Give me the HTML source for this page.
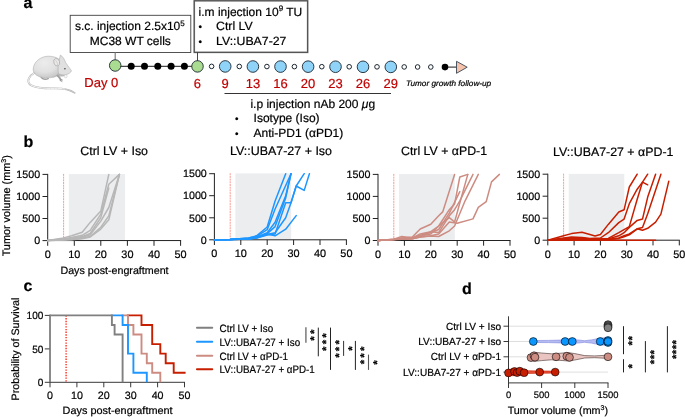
<!DOCTYPE html>
<html lang="en">
<head>
<meta charset="utf-8">
<title>Figure</title>
<style>
html,body{margin:0;padding:0;background:#fff;}
body{width:685px;height:417px;overflow:hidden;}
svg{display:block;}
text{text-rendering:geometricPrecision;stroke-width:0.2px;}
</style>
</head>
<body>
<svg width="685" height="417" viewBox="0 0 685 417" font-family="'Liberation Sans', sans-serif" fill="#000">
<rect width="685" height="417" fill="#fff"/>
<text x="23.6" y="8.3" font-size="16" stroke="#000" font-weight="bold">a</text>
<text x="23.6" y="146.7" font-size="16" stroke="#000" font-weight="bold">b</text>
<text x="23.6" y="290.5" font-size="16" stroke="#000" font-weight="bold">c</text>
<text x="462.0" y="294.2" font-size="16" stroke="#000" font-weight="bold">d</text>
<defs><radialGradient id="mb" cx="0.4" cy="0.3" r="0.8"><stop offset="0" stop-color="#ececec"/><stop offset="0.55" stop-color="#e1e1e1"/><stop offset="0.85" stop-color="#cbcbcb"/><stop offset="1" stop-color="#b2b2b2"/></radialGradient></defs>
<g id="mouse" transform="translate(24,50) scale(0.1152)">
<path d="M92 198 C50 222 22 262 45 292 C70 326 180 336 262 333 C340 331 400 345 440 372" fill="none" stroke="#b4b4b4" stroke-width="15" stroke-linecap="round"/>
<path d="M92 198 C50 222 22 262 45 292 C70 326 180 336 262 333 C300 332 330 334 352 339" fill="none" stroke="#f6f6f6" stroke-width="8.5" stroke-linecap="round"/>
<path d="M352 339 C390 346 420 358 442 373" fill="none" stroke="#dcdcdc" stroke-width="5" stroke-linecap="round"/>
<path d="M150 238 C165 254 192 256 210 248" fill="none" stroke="#9c9c9c" stroke-width="13" stroke-linecap="round"/>
<path d="M80 165 C83 100 150 52 215 54 C262 55 302 70 318 98 C332 132 312 192 290 222 C268 242 200 246 150 236 C108 226 78 200 80 165Z" fill="url(#mb)" stroke="#adadad" stroke-width="5"/>
<path d="M296 150 C300 180 298 205 286 226 C300 232 330 232 352 226 L366 214 C340 216 316 212 300 204Z" fill="#bcbcbc"/>
<path d="M290 222 C304 234 314 246 320 260" fill="none" stroke="#a2a2a2" stroke-width="16" stroke-linecap="round"/>
<path d="M312 264 l18 10 M318 256 l16 5" fill="none" stroke="#8e8e8e" stroke-width="7" stroke-linecap="round"/>
<path d="M316 44 C338 56 352 84 362 110 C382 140 402 164 412 181 C407 197 387 207 367 214 C345 218 318 215 300 205 C292 178 296 120 305 90 C308 74 312 58 316 44Z" fill="#e0e0e0" stroke="#ababab" stroke-width="5"/>
<ellipse cx="284" cy="106" rx="25" ry="33" transform="rotate(-18 284 106)" fill="#ebe8e8" stroke="#a6a6a6" stroke-width="5.5"/>
<path d="M275 90 C285 100 292 115 292 130" fill="none" stroke="#c8c4c4" stroke-width="6" stroke-linecap="round"/>
<ellipse cx="355" cy="162" rx="8.5" ry="6.5" fill="#5c5c5c"/>
<ellipse cx="362" cy="228" rx="13" ry="14" fill="#f6f6f6" stroke="#bdbdbd" stroke-width="3.5"/>
</g>
<rect x="70.2" y="15.3" width="120.6" height="37.2" fill="#fff" stroke="#404040" stroke-width="0.9"/>
<rect x="194.2" y="0.8" width="113.5" height="51.5" fill="#fff" stroke="#9a9a9a" stroke-width="1.8"/>
<rect x="194.2" y="0.8" width="113.5" height="51.5" fill="none" stroke="#303030" stroke-width="0.7"/>
<text x="74.9" y="30.2" font-size="12" stroke="#000">s.c. injection 2.5x10<tspan font-size="8" dy="-4.5">5</tspan></text>
<text x="130.3" y="45.0" font-size="12" text-anchor="middle" stroke="#000">MC38 WT cells</text>
<text x="198.6" y="15.9" font-size="12" stroke="#000">i.m injection 10<tspan font-size="8" dy="-4.5">9</tspan><tspan dy="4.5"> TU</tspan></text>
<text x="198.4" y="30.2" font-size="10" stroke="#000">•</text>
<text x="216.0" y="30.2" font-size="12" stroke="#000" textLength="36.7" lengthAdjust="spacingAndGlyphs">Ctrl LV</text>
<text x="198.4" y="45.0" font-size="10" stroke="#000">•</text>
<text x="216.0" y="45.0" font-size="12" stroke="#000" textLength="70.4" lengthAdjust="spacingAndGlyphs">LV::UBA7-27</text>
<line x1="115.2" y1="52.5" x2="115.2" y2="60" stroke="#808080" stroke-width="1.2"/>
<line x1="197.5" y1="52.5" x2="197.5" y2="61" stroke="#303030" stroke-width="0.9"/>
<line x1="115.2" y1="66.3" x2="197.5" y2="66.3" stroke="#000" stroke-width="0.9"/>
<circle cx="115.2" cy="65.5" r="5.75" fill="#a9dc90" stroke="#1c2630" stroke-width="0.9"/>
<circle cx="131.2" cy="66.3" r="3.5" fill="#000"/>
<circle cx="144.5" cy="66.3" r="3.5" fill="#000"/>
<circle cx="157.8" cy="66.3" r="3.5" fill="#000"/>
<circle cx="171.1" cy="66.3" r="3.5" fill="#000"/>
<circle cx="184.4" cy="66.3" r="3.5" fill="#000"/>
<circle cx="197.5" cy="66.4" r="5.75" fill="#a9dc90" stroke="#1c2630" stroke-width="0.9"/>
<circle cx="211.6" cy="66.39" r="2.3" fill="#fff" stroke="#1c2630" stroke-width="1"/>
<circle cx="239.3" cy="66.47" r="2.3" fill="#fff" stroke="#1c2630" stroke-width="1"/>
<circle cx="266.9" cy="66.54" r="2.3" fill="#fff" stroke="#1c2630" stroke-width="1"/>
<circle cx="294.4" cy="66.62" r="2.3" fill="#fff" stroke="#1c2630" stroke-width="1"/>
<circle cx="321.8" cy="66.70" r="2.3" fill="#fff" stroke="#1c2630" stroke-width="1"/>
<circle cx="349.2" cy="66.77" r="2.3" fill="#fff" stroke="#1c2630" stroke-width="1"/>
<circle cx="377" cy="66.85" r="2.3" fill="#fff" stroke="#1c2630" stroke-width="1"/>
<circle cx="404.2" cy="66.93" r="2.3" fill="#fff" stroke="#1c2630" stroke-width="1"/>
<circle cx="417.6" cy="66.97" r="2.3" fill="#fff" stroke="#1c2630" stroke-width="1"/>
<circle cx="430.8" cy="67.00" r="2.3" fill="#fff" stroke="#1c2630" stroke-width="1"/>
<circle cx="225.2" cy="66.43" r="5.8" fill="#8fd4f8" stroke="#1c2630" stroke-width="0.9"/>
<circle cx="252.9" cy="66.51" r="5.8" fill="#8fd4f8" stroke="#1c2630" stroke-width="0.9"/>
<circle cx="280.5" cy="66.58" r="5.8" fill="#8fd4f8" stroke="#1c2630" stroke-width="0.9"/>
<circle cx="308.1" cy="66.66" r="5.8" fill="#8fd4f8" stroke="#1c2630" stroke-width="0.9"/>
<circle cx="335.5" cy="66.74" r="5.8" fill="#8fd4f8" stroke="#1c2630" stroke-width="0.9"/>
<circle cx="363" cy="66.81" r="5.8" fill="#8fd4f8" stroke="#1c2630" stroke-width="0.9"/>
<circle cx="390.8" cy="66.89" r="5.8" fill="#8fd4f8" stroke="#1c2630" stroke-width="0.9"/>
<line x1="445" y1="67.1" x2="456.5" y2="67.1" stroke="#000" stroke-width="0.9"/>
<circle cx="445" cy="67.1" r="3.3" fill="#000"/>
<path d="M456.5 61.3 L467.2 67.2 L456.5 73.3 Z" fill="#f5c3ab" stroke="#3a4652" stroke-width="0.9" stroke-linejoin="miter"/>
<text x="84.3" y="87.3" font-size="13" fill="#c00000" stroke="#c00000">Day 0</text>
<text x="197.3" y="87.5" font-size="13" text-anchor="middle" fill="#c00000" stroke="#c00000">6</text>
<text x="225.2" y="87.5" font-size="13" text-anchor="middle" fill="#c00000" stroke="#c00000">9</text>
<text x="252.9" y="87.5" font-size="13" text-anchor="middle" fill="#c00000" stroke="#c00000">13</text>
<text x="280.5" y="87.5" font-size="13" text-anchor="middle" fill="#c00000" stroke="#c00000">16</text>
<text x="308.1" y="87.5" font-size="13" text-anchor="middle" fill="#c00000" stroke="#c00000">20</text>
<text x="335.5" y="87.5" font-size="13" text-anchor="middle" fill="#c00000" stroke="#c00000">23</text>
<text x="363.0" y="87.5" font-size="13" text-anchor="middle" fill="#c00000" stroke="#c00000">26</text>
<text x="390.8" y="87.5" font-size="13" text-anchor="middle" fill="#c00000" stroke="#c00000">29</text>
<line x1="224.5" y1="93.5" x2="391" y2="93.5" stroke="#000" stroke-width="0.8"/>
<text x="250.4" y="107.7" font-size="12" stroke="#000">i.p injection nAb 200 <tspan font-style="italic">μ</tspan>g</text>
<text x="235.0" y="122.3" font-size="10" stroke="#000">•</text>
<text x="253.6" y="122.3" font-size="12" stroke="#000">Isotype (Iso)</text>
<text x="235.0" y="136.5" font-size="10" stroke="#000">•</text>
<text x="253.6" y="136.5" font-size="12" stroke="#000">Anti-PD1 (αPD1)</text>
<text x="406.0" y="86.2" font-size="8" stroke="#000" font-style="italic" stroke-width="0.03" textLength="85.2" lengthAdjust="spacingAndGlyphs">Tumor growth follow-up</text>
<rect x="68.8" y="174.1" width="56.2" height="65.8" fill="#ecedef"/>
<line x1="63.6" y1="173.9" x2="63.6" y2="240.55" stroke="#f86a5c" stroke-width="0.9" stroke-dasharray="2 0.7" stroke-opacity="0.75"/>
<path d="M47.7 173.90 V240.55 H181.1" fill="none" stroke="#222" stroke-width="1"/>
<line x1="42.5" y1="240.6" x2="47.7" y2="240.6" stroke="#222" stroke-width="1"/>
<text x="40.1" y="244.2" font-size="10.7" text-anchor="end" stroke="#000">0</text>
<line x1="42.5" y1="218.5" x2="47.7" y2="218.5" stroke="#222" stroke-width="1"/>
<text x="40.1" y="222.2" font-size="10.7" text-anchor="end" stroke="#000">500</text>
<line x1="42.5" y1="196.5" x2="47.7" y2="196.5" stroke="#222" stroke-width="1"/>
<text x="40.1" y="200.2" font-size="10.7" text-anchor="end" stroke="#000">1000</text>
<line x1="42.5" y1="174.4" x2="47.7" y2="174.4" stroke="#222" stroke-width="1"/>
<text x="40.1" y="178.1" font-size="10.7" text-anchor="end" stroke="#000">1500</text>
<line x1="47.7" y1="240.55" x2="47.7" y2="245.8" stroke="#222" stroke-width="1"/>
<text x="47.7" y="257.9" font-size="10.9" text-anchor="middle" stroke="#000">0</text>
<line x1="74.3" y1="240.55" x2="74.3" y2="245.8" stroke="#222" stroke-width="1"/>
<text x="74.3" y="257.9" font-size="10.9" text-anchor="middle" stroke="#000">10</text>
<line x1="100.8" y1="240.55" x2="100.8" y2="245.8" stroke="#222" stroke-width="1"/>
<text x="100.8" y="257.9" font-size="10.9" text-anchor="middle" stroke="#000">20</text>
<line x1="127.4" y1="240.55" x2="127.4" y2="245.8" stroke="#222" stroke-width="1"/>
<text x="127.4" y="257.9" font-size="10.9" text-anchor="middle" stroke="#000">30</text>
<line x1="154.0" y1="240.55" x2="154.0" y2="245.8" stroke="#222" stroke-width="1"/>
<text x="154.0" y="257.9" font-size="10.9" text-anchor="middle" stroke="#000">40</text>
<line x1="180.6" y1="240.55" x2="180.6" y2="245.8" stroke="#222" stroke-width="1"/>
<text x="180.6" y="257.9" font-size="10.9" text-anchor="middle" stroke="#000">50</text>
<polyline points="47.7,240.6 63.6,237.9 71.6,235.7 82.2,232.3 90.2,222.4 100.8,211.1 108.8,174.4" fill="none" stroke="#b7b7b7" stroke-width="1.5" stroke-linejoin="round" stroke-linecap="round"/>
<polyline points="47.7,240.6 63.6,238.8 71.6,237.5 82.2,235.3 90.2,230.4 100.8,214.1 108.8,184.3 119.4,174.4" fill="none" stroke="#b7b7b7" stroke-width="1.5" stroke-linejoin="round" stroke-linecap="round"/>
<polyline points="47.7,240.6 63.6,239.2 71.6,238.3 82.2,236.6 90.2,233.5 100.8,217.6 108.8,188.1" fill="none" stroke="#b7b7b7" stroke-width="1.5" stroke-linejoin="round" stroke-linecap="round"/>
<polyline points="47.7,240.6 63.6,239.7 71.6,238.8 82.2,237.5 90.2,234.8 100.8,221.1 108.8,207.5 119.4,174.4" fill="none" stroke="#b7b7b7" stroke-width="1.5" stroke-linejoin="round" stroke-linecap="round"/>
<polyline points="47.7,240.6 63.6,240.1 71.6,239.4 82.2,238.3 90.2,236.6 100.8,227.3 108.8,215.9 119.4,174.4" fill="none" stroke="#b7b7b7" stroke-width="1.5" stroke-linejoin="round" stroke-linecap="round"/>
<polyline points="47.7,240.6 63.6,240.1 71.6,239.7 82.2,238.8 90.2,237.0 100.8,229.1 108.8,219.8 119.4,174.4" fill="none" stroke="#b7b7b7" stroke-width="1.5" stroke-linejoin="round" stroke-linecap="round"/>
<text x="80.3" y="154.9" font-size="12.2" stroke="#000" textLength="67.7" lengthAdjust="spacingAndGlyphs">Ctrl LV + Iso</text>
<rect x="235.4" y="173.4" width="55.8" height="65.7" fill="#ecedef"/>
<line x1="230.2" y1="173.2" x2="230.2" y2="239.8" stroke="#f86a5c" stroke-width="0.9" stroke-dasharray="2 0.7" stroke-opacity="0.75"/>
<path d="M214.4 173.20 V239.8 H346.9" fill="none" stroke="#222" stroke-width="1"/>
<line x1="209.2" y1="239.8" x2="214.4" y2="239.8" stroke="#222" stroke-width="1"/>
<text x="206.8" y="243.5" font-size="10.7" text-anchor="end" stroke="#000">0</text>
<line x1="209.2" y1="217.8" x2="214.4" y2="217.8" stroke="#222" stroke-width="1"/>
<text x="206.8" y="221.5" font-size="10.7" text-anchor="end" stroke="#000">500</text>
<line x1="209.2" y1="195.7" x2="214.4" y2="195.7" stroke="#222" stroke-width="1"/>
<text x="206.8" y="199.4" font-size="10.7" text-anchor="end" stroke="#000">1000</text>
<line x1="209.2" y1="173.7" x2="214.4" y2="173.7" stroke="#222" stroke-width="1"/>
<text x="206.8" y="177.4" font-size="10.7" text-anchor="end" stroke="#000">1500</text>
<line x1="214.4" y1="239.8" x2="214.4" y2="245.0" stroke="#222" stroke-width="1"/>
<text x="214.4" y="257.1" font-size="10.9" text-anchor="middle" stroke="#000">0</text>
<line x1="240.8" y1="239.8" x2="240.8" y2="245.0" stroke="#222" stroke-width="1"/>
<text x="240.8" y="257.1" font-size="10.9" text-anchor="middle" stroke="#000">10</text>
<line x1="267.2" y1="239.8" x2="267.2" y2="245.0" stroke="#222" stroke-width="1"/>
<text x="267.2" y="257.1" font-size="10.9" text-anchor="middle" stroke="#000">20</text>
<line x1="293.6" y1="239.8" x2="293.6" y2="245.0" stroke="#222" stroke-width="1"/>
<text x="293.6" y="257.1" font-size="10.9" text-anchor="middle" stroke="#000">30</text>
<line x1="320.0" y1="239.8" x2="320.0" y2="245.0" stroke="#222" stroke-width="1"/>
<text x="320.0" y="257.1" font-size="10.9" text-anchor="middle" stroke="#000">40</text>
<line x1="346.4" y1="239.8" x2="346.4" y2="245.0" stroke="#222" stroke-width="1"/>
<text x="346.4" y="257.1" font-size="10.9" text-anchor="middle" stroke="#000">50</text>
<polyline points="214.4,239.8 230.2,239.4 248.7,238.0 256.6,235.8 267.2,227.0 275.1,201.0 285.7,173.7" fill="none" stroke="#1e96ff" stroke-width="1.5" stroke-linejoin="round" stroke-linecap="round"/>
<polyline points="214.4,239.8 230.2,239.4 248.7,238.0 256.6,236.3 267.2,229.7 275.1,209.0 291.0,173.7" fill="none" stroke="#1e96ff" stroke-width="1.5" stroke-linejoin="round" stroke-linecap="round"/>
<polyline points="214.4,239.8 230.2,239.4 248.7,238.5 256.6,237.2 267.2,232.7 275.1,222.2 285.7,195.7 291.0,173.7" fill="none" stroke="#1e96ff" stroke-width="1.5" stroke-linejoin="round" stroke-linecap="round"/>
<polyline points="214.4,239.8 230.2,239.4 248.7,238.5 256.6,237.2 267.2,233.6 275.1,226.6 285.7,197.9 291.0,173.7" fill="none" stroke="#1e96ff" stroke-width="1.5" stroke-linejoin="round" stroke-linecap="round"/>
<polyline points="214.4,239.8 230.2,239.6 248.7,238.9 256.6,237.6 267.2,234.5 275.1,232.7 285.7,217.8 291.0,202.8 296.2,186.0 304.2,173.7" fill="none" stroke="#1e96ff" stroke-width="1.5" stroke-linejoin="round" stroke-linecap="round"/>
<polyline points="214.4,239.8 230.2,239.6 248.7,238.9 256.6,238.0 267.2,235.0 275.1,234.1 285.7,202.8 291.0,202.8 296.2,186.0 304.2,190.4 309.4,173.7" fill="none" stroke="#1e96ff" stroke-width="1.5" stroke-linejoin="round" stroke-linecap="round"/>
<polyline points="214.4,239.8 230.2,239.6 248.7,238.9 256.6,238.0 267.2,234.1 275.1,235.8 285.7,229.2 296.2,215.6" fill="none" stroke="#1e96ff" stroke-width="1.5" stroke-linejoin="round" stroke-linecap="round"/>
<text x="229.9" y="155.0" font-size="12.2" stroke="#000" textLength="102.1" lengthAdjust="spacingAndGlyphs">LV::UBA7-27 + Iso</text>
<rect x="399.0" y="174.1" width="55.8" height="65.7" fill="#ecedef"/>
<line x1="393.8" y1="173.9" x2="393.8" y2="240.5" stroke="#f86a5c" stroke-width="0.9" stroke-dasharray="2 0.7" stroke-opacity="0.75"/>
<path d="M378.0 173.90 V240.5 H510.5" fill="none" stroke="#222" stroke-width="1"/>
<line x1="372.8" y1="240.5" x2="378.0" y2="240.5" stroke="#222" stroke-width="1"/>
<text x="370.4" y="244.2" font-size="10.7" text-anchor="end" stroke="#000">0</text>
<line x1="372.8" y1="218.5" x2="378.0" y2="218.5" stroke="#222" stroke-width="1"/>
<text x="370.4" y="222.2" font-size="10.7" text-anchor="end" stroke="#000">500</text>
<line x1="372.8" y1="196.4" x2="378.0" y2="196.4" stroke="#222" stroke-width="1"/>
<text x="370.4" y="200.1" font-size="10.7" text-anchor="end" stroke="#000">1000</text>
<line x1="372.8" y1="174.4" x2="378.0" y2="174.4" stroke="#222" stroke-width="1"/>
<text x="370.4" y="178.1" font-size="10.7" text-anchor="end" stroke="#000">1500</text>
<line x1="378.0" y1="240.5" x2="378.0" y2="245.7" stroke="#222" stroke-width="1"/>
<text x="378.0" y="257.8" font-size="10.9" text-anchor="middle" stroke="#000">0</text>
<line x1="404.4" y1="240.5" x2="404.4" y2="245.7" stroke="#222" stroke-width="1"/>
<text x="404.4" y="257.8" font-size="10.9" text-anchor="middle" stroke="#000">10</text>
<line x1="430.8" y1="240.5" x2="430.8" y2="245.7" stroke="#222" stroke-width="1"/>
<text x="430.8" y="257.8" font-size="10.9" text-anchor="middle" stroke="#000">20</text>
<line x1="457.2" y1="240.5" x2="457.2" y2="245.7" stroke="#222" stroke-width="1"/>
<text x="457.2" y="257.8" font-size="10.9" text-anchor="middle" stroke="#000">30</text>
<line x1="483.6" y1="240.5" x2="483.6" y2="245.7" stroke="#222" stroke-width="1"/>
<text x="483.6" y="257.8" font-size="10.9" text-anchor="middle" stroke="#000">40</text>
<line x1="510.0" y1="240.5" x2="510.0" y2="245.7" stroke="#222" stroke-width="1"/>
<text x="510.0" y="257.8" font-size="10.9" text-anchor="middle" stroke="#000">50</text>
<polyline points="378.0,240.5 393.8,239.2 401.8,237.9 412.3,237.0 420.2,229.0 430.8,224.2 438.7,215.8 442.7,211.9 454.6,174.4" fill="none" stroke="#cd8c82" stroke-width="1.5" stroke-linejoin="round" stroke-linecap="round"/>
<polyline points="378.0,240.5 393.8,239.2 401.8,236.5 412.3,237.9 420.2,233.9 430.8,231.7 438.7,226.0 449.3,209.7 454.6,203.9 459.8,177.0 467.8,174.4" fill="none" stroke="#cd8c82" stroke-width="1.5" stroke-linejoin="round" stroke-linecap="round"/>
<polyline points="378.0,240.5 393.8,239.6 401.8,238.3 412.3,238.3 420.2,235.2 430.8,232.6 438.7,229.5 449.3,213.2 459.8,191.6" fill="none" stroke="#cd8c82" stroke-width="1.5" stroke-linejoin="round" stroke-linecap="round"/>
<polyline points="378.0,240.5 393.8,239.6 401.8,238.7 412.3,238.3 420.2,236.1 430.8,233.9 438.7,226.0 449.3,217.6 454.6,222.0 459.8,203.0 467.8,174.4" fill="none" stroke="#cd8c82" stroke-width="1.5" stroke-linejoin="round" stroke-linecap="round"/>
<polyline points="378.0,240.5 393.8,239.6 401.8,238.7 412.3,238.7 420.2,236.5 430.8,231.7 438.7,232.6 449.3,215.8 454.6,209.7 459.8,200.8 473.0,174.4" fill="none" stroke="#cd8c82" stroke-width="1.5" stroke-linejoin="round" stroke-linecap="round"/>
<polyline points="378.0,240.5 393.8,239.6 401.8,239.2 412.3,238.7 420.2,237.0 430.8,236.1 438.7,236.5 449.3,230.8 454.6,226.0 465.1,200.8 478.3,174.4" fill="none" stroke="#cd8c82" stroke-width="1.5" stroke-linejoin="round" stroke-linecap="round"/>
<polyline points="378.0,240.5 393.8,239.6 401.8,239.2 412.3,238.7 420.2,237.0 430.8,235.7 438.7,233.9 449.3,222.0 457.2,223.3 473.0,218.9 478.3,207.4 486.2,201.7 491.5,181.9 499.4,174.4" fill="none" stroke="#cd8c82" stroke-width="1.5" stroke-linejoin="round" stroke-linecap="round"/>
<text x="401.0" y="155.3" font-size="12.2" stroke="#000" textLength="86.0" lengthAdjust="spacingAndGlyphs">Ctrl LV + αPD-1</text>
<rect x="568.7" y="173.9" width="55.6" height="65.6" fill="#ecedef"/>
<line x1="563.6" y1="173.7" x2="563.6" y2="240.2" stroke="#f86a5c" stroke-width="0.9" stroke-dasharray="2 0.7" stroke-opacity="0.75"/>
<path d="M547.8 173.70 V240.2 H679.8" fill="none" stroke="#222" stroke-width="1"/>
<line x1="542.6" y1="240.2" x2="547.8" y2="240.2" stroke="#222" stroke-width="1"/>
<text x="540.2" y="243.9" font-size="10.7" text-anchor="end" stroke="#000">0</text>
<line x1="542.6" y1="218.2" x2="547.8" y2="218.2" stroke="#222" stroke-width="1"/>
<text x="540.2" y="221.9" font-size="10.7" text-anchor="end" stroke="#000">500</text>
<line x1="542.6" y1="196.2" x2="547.8" y2="196.2" stroke="#222" stroke-width="1"/>
<text x="540.2" y="199.9" font-size="10.7" text-anchor="end" stroke="#000">1000</text>
<line x1="542.6" y1="174.2" x2="547.8" y2="174.2" stroke="#222" stroke-width="1"/>
<text x="540.2" y="177.9" font-size="10.7" text-anchor="end" stroke="#000">1500</text>
<line x1="547.8" y1="240.2" x2="547.8" y2="245.4" stroke="#222" stroke-width="1"/>
<text x="547.8" y="257.5" font-size="10.9" text-anchor="middle" stroke="#000">0</text>
<line x1="574.1" y1="240.2" x2="574.1" y2="245.4" stroke="#222" stroke-width="1"/>
<text x="574.1" y="257.5" font-size="10.9" text-anchor="middle" stroke="#000">10</text>
<line x1="600.4" y1="240.2" x2="600.4" y2="245.4" stroke="#222" stroke-width="1"/>
<text x="600.4" y="257.5" font-size="10.9" text-anchor="middle" stroke="#000">20</text>
<line x1="626.7" y1="240.2" x2="626.7" y2="245.4" stroke="#222" stroke-width="1"/>
<text x="626.7" y="257.5" font-size="10.9" text-anchor="middle" stroke="#000">30</text>
<line x1="653.0" y1="240.2" x2="653.0" y2="245.4" stroke="#222" stroke-width="1"/>
<text x="653.0" y="257.5" font-size="10.9" text-anchor="middle" stroke="#000">40</text>
<line x1="679.3" y1="240.2" x2="679.3" y2="245.4" stroke="#222" stroke-width="1"/>
<text x="679.3" y="257.5" font-size="10.9" text-anchor="middle" stroke="#000">50</text>
<polyline points="547.8,240.2 563.6,235.8 571.5,233.6 582.0,232.3 589.9,234.5 595.1,236.0 600.4,234.5 608.3,224.4 618.8,212.0 624.1,209.8 629.3,187.0 637.2,174.2" fill="none" stroke="#c81e00" stroke-width="1.5" stroke-linejoin="round" stroke-linecap="round"/>
<polyline points="547.8,240.2 563.6,238.0 571.5,237.1 582.0,237.6 589.9,238.4 600.4,238.0 608.3,232.7 618.8,222.6 624.1,219.1 629.3,203.7 637.2,189.2 642.5,182.1 647.7,184.8" fill="none" stroke="#c81e00" stroke-width="1.5" stroke-linejoin="round" stroke-linecap="round"/>
<polyline points="547.8,240.2 563.6,238.9 571.5,238.0 582.0,238.0 589.9,238.9 600.4,238.9 608.3,238.4 618.8,232.7 629.3,226.6 637.2,199.3 642.5,182.1 647.7,174.2" fill="none" stroke="#c81e00" stroke-width="1.5" stroke-linejoin="round" stroke-linecap="round"/>
<polyline points="547.8,240.2 563.6,239.3 571.5,238.9 582.0,238.4 589.9,238.9 600.4,239.3 608.3,238.9 618.8,235.8 624.1,232.7 629.3,227.4 637.2,220.4 642.5,219.1 647.7,197.1 655.6,174.2" fill="none" stroke="#c81e00" stroke-width="1.5" stroke-linejoin="round" stroke-linecap="round"/>
<polyline points="547.8,240.2 563.6,239.3 571.5,239.3 582.0,238.9 589.9,239.3 600.4,239.3 608.3,239.3 618.8,238.0 624.1,235.8 629.3,234.0 637.2,228.8 642.5,227.4 647.7,213.8 660.9,174.2" fill="none" stroke="#c81e00" stroke-width="1.5" stroke-linejoin="round" stroke-linecap="round"/>
<polyline points="547.8,240.2 563.6,239.8 571.5,239.3 582.0,239.3 589.9,239.3 600.4,239.8 608.3,239.8 618.8,238.4 624.1,236.7 629.3,234.9 637.2,228.8 642.5,230.3 647.7,228.3 655.6,222.2 660.9,214.2 668.8,181.2" fill="none" stroke="#c81e00" stroke-width="1.5" stroke-linejoin="round" stroke-linecap="round"/>
<polyline points="547.8,240.2 655.6,240.2" fill="none" stroke="#c81e00" stroke-width="1.5" stroke-linejoin="round" stroke-linecap="round"/>
<text x="553.1" y="155.6" font-size="12.2" stroke="#000" textLength="120.3" lengthAdjust="spacingAndGlyphs">LV::UBA7-27 + αPD-1</text>
<text x="114.5" y="274.0" font-size="10.7" text-anchor="middle" stroke="#000">Days post-engraftment</text>
<text stroke="#000" transform="translate(9.8,205.8) rotate(-90)" font-size="10.85" text-anchor="middle">Tumor volume (mm<tspan font-size="7" dy="-3.8">3</tspan><tspan dy="3.8">)</tspan></text>
<line x1="66.1" y1="315.4" x2="66.1" y2="382.3" stroke="#ff2a1a" stroke-width="1.4" stroke-dasharray="1.35 1.35"/>
<path d="M50.0 314.9 V382.3 H185.0" fill="none" stroke="#222" stroke-width="0.9"/>
<line x1="44.8" y1="382.3" x2="50.0" y2="382.3" stroke="#222" stroke-width="0.9"/>
<text x="37.8" y="386.0" font-size="10.5" stroke="#000" textLength="5.6" lengthAdjust="spacingAndGlyphs">0</text>
<line x1="44.8" y1="348.9" x2="50.0" y2="348.9" stroke="#222" stroke-width="0.9"/>
<text x="32.2" y="352.6" font-size="10.5" stroke="#000" textLength="11.2" lengthAdjust="spacingAndGlyphs">50</text>
<line x1="44.8" y1="315.4" x2="50.0" y2="315.4" stroke="#222" stroke-width="0.9"/>
<text x="26.6" y="319.1" font-size="10.5" stroke="#000" textLength="16.8" lengthAdjust="spacingAndGlyphs">100</text>
<line x1="50.0" y1="382.3" x2="50.0" y2="387.3" stroke="#222" stroke-width="0.9"/>
<text x="50.0" y="399.2" font-size="10.7" text-anchor="middle" stroke="#000">0</text>
<line x1="76.9" y1="382.3" x2="76.9" y2="387.3" stroke="#222" stroke-width="0.9"/>
<text x="76.9" y="399.2" font-size="10.7" text-anchor="middle" stroke="#000">10</text>
<line x1="103.8" y1="382.3" x2="103.8" y2="387.3" stroke="#222" stroke-width="0.9"/>
<text x="103.8" y="399.2" font-size="10.7" text-anchor="middle" stroke="#000">20</text>
<line x1="130.7" y1="382.3" x2="130.7" y2="387.3" stroke="#222" stroke-width="0.9"/>
<text x="130.7" y="399.2" font-size="10.7" text-anchor="middle" stroke="#000">30</text>
<line x1="157.6" y1="382.3" x2="157.6" y2="387.3" stroke="#222" stroke-width="0.9"/>
<text x="157.6" y="399.2" font-size="10.7" text-anchor="middle" stroke="#000">40</text>
<line x1="184.5" y1="382.3" x2="184.5" y2="387.3" stroke="#222" stroke-width="0.9"/>
<text x="184.5" y="399.2" font-size="10.7" text-anchor="middle" stroke="#000">50</text>
<polyline points="126.9,315.4 141.5,315.4 141.5,325.0 152.2,325.0 152.2,344.1 160.3,344.1 160.3,353.6 165.7,353.6 165.7,363.2 173.7,363.2 173.7,372.7 185.6,372.7" fill="none" stroke="#c81e00" stroke-width="1.9" stroke-linejoin="miter"/>
<polyline points="121.6,315.4 128.0,315.4 128.0,325.0 133.4,325.0 133.4,334.5 141.5,334.5 141.5,353.6 146.8,353.6 146.8,363.2 152.2,363.2 152.2,372.7 160.3,372.7 160.3,382.3" fill="none" stroke="#cd8c82" stroke-width="1.9" stroke-linejoin="miter"/>
<polyline points="110.8,315.4 122.6,315.4 122.6,325.0 128.0,325.0 128.0,353.6 133.4,353.6 133.4,372.7 146.8,372.7 146.8,382.3" fill="none" stroke="#1e96ff" stroke-width="1.9" stroke-linejoin="miter"/>
<polyline points="50.0,315.4 111.9,315.4 111.9,325.0 114.6,325.0 114.6,334.5 122.6,334.5 122.6,382.3" fill="none" stroke="#808080" stroke-width="1.9" stroke-linejoin="miter"/>
<line x1="50.0" y1="314.59999999999997" x2="50.0" y2="382.3" stroke="#808080" stroke-width="1.2"/>
<text x="62.6" y="414.1" font-size="10.7" stroke="#000" textLength="110.0" lengthAdjust="spacingAndGlyphs">Days post-engraftment</text>
<text stroke="#000" transform="translate(18.5,349.0) rotate(-90)" font-size="10.7" text-anchor="middle">Probability of Survival</text>
<line x1="197" y1="327.8" x2="212.2" y2="327.8" stroke="#808080" stroke-width="2.1" stroke-linecap="round"/>
<text x="219.6" y="331.7" font-size="10.6" stroke="#000" textLength="53.6" lengthAdjust="spacingAndGlyphs">Ctrl LV + Iso</text>
<line x1="197" y1="341.8" x2="212.2" y2="341.8" stroke="#1e96ff" stroke-width="2.1" stroke-linecap="round"/>
<text x="219.6" y="345.7" font-size="10.6" stroke="#000" textLength="80.5" lengthAdjust="spacingAndGlyphs">LV::UBA7-27 + Iso</text>
<line x1="197" y1="355.7" x2="212.2" y2="355.7" stroke="#cd8c82" stroke-width="2.1" stroke-linecap="round"/>
<text x="219.6" y="359.6" font-size="10.6" stroke="#000" textLength="68.4" lengthAdjust="spacingAndGlyphs">Ctrl LV + αPD-1</text>
<line x1="197" y1="369.2" x2="212.2" y2="369.2" stroke="#c81e00" stroke-width="2.1" stroke-linecap="round"/>
<text x="219.6" y="373.1" font-size="10.6" stroke="#000" textLength="95.2" lengthAdjust="spacingAndGlyphs">LV::UBA7-27 + αPD-1</text>
<line x1="305.9" y1="327.3" x2="305.9" y2="342.7" stroke="#7a7a7a" stroke-width="1.5"/>
<text stroke="#000" transform="translate(318.14,334.04) rotate(-90)" font-size="11.4" font-weight="bold">*</text>
<text stroke="#000" transform="translate(318.14,340.64) rotate(-90)" font-size="11.4" font-weight="bold">*</text>
<line x1="318.3" y1="327.6" x2="318.3" y2="356.3" stroke="#222" stroke-width="1.0"/>
<text stroke="#000" transform="translate(330.44,337.74) rotate(-90)" font-size="11.4" font-weight="bold">*</text>
<text stroke="#000" transform="translate(330.44,344.34) rotate(-90)" font-size="11.4" font-weight="bold">*</text>
<text stroke="#000" transform="translate(330.44,350.94) rotate(-90)" font-size="11.4" font-weight="bold">*</text>
<line x1="330.5" y1="327.6" x2="330.5" y2="369.9" stroke="#222" stroke-width="1.0"/>
<text stroke="#000" transform="translate(342.54,344.54) rotate(-90)" font-size="11.4" font-weight="bold">*</text>
<text stroke="#000" transform="translate(342.54,351.14) rotate(-90)" font-size="11.4" font-weight="bold">*</text>
<text stroke="#000" transform="translate(342.54,357.64) rotate(-90)" font-size="11.4" font-weight="bold">*</text>
<line x1="343.6" y1="340.9" x2="343.6" y2="355.9" stroke="#333" stroke-width="1.0"/>
<text stroke="#000" transform="translate(355.74,350.64) rotate(-90)" font-size="11.4" font-weight="bold">*</text>
<line x1="355.4" y1="340.9" x2="355.4" y2="369.9" stroke="#222" stroke-width="1.0"/>
<text stroke="#000" transform="translate(367.84,350.94) rotate(-90)" font-size="11.4" font-weight="bold">*</text>
<text stroke="#000" transform="translate(367.84,357.64) rotate(-90)" font-size="11.4" font-weight="bold">*</text>
<text stroke="#000" transform="translate(367.84,364.34) rotate(-90)" font-size="11.4" font-weight="bold">*</text>
<line x1="368.5" y1="354.6" x2="368.5" y2="369.9" stroke="#555" stroke-width="1.1"/>
<text stroke="#000" transform="translate(381.04,364.64) rotate(-90)" font-size="11.4" font-weight="bold">*</text>
<line x1="508.5" y1="326.2" x2="607.95" y2="326.2" stroke="#bdbdbd" stroke-width="0.5"/>
<line x1="508.5" y1="341.5" x2="607.95" y2="341.5" stroke="#bdbdbd" stroke-width="0.5"/>
<line x1="508.5" y1="356.8" x2="607.95" y2="356.8" stroke="#bdbdbd" stroke-width="0.5"/>
<line x1="508.5" y1="372.1" x2="607.95" y2="372.1" stroke="#bdbdbd" stroke-width="0.5"/>
<path d="M508.5 316.3 V382.9 H608.45" fill="none" stroke="#222" stroke-width="0.9"/>
<line x1="503.5" y1="326.2" x2="508.5" y2="326.2" stroke="#222" stroke-width="0.9"/>
<line x1="503.5" y1="341.5" x2="508.5" y2="341.5" stroke="#222" stroke-width="0.9"/>
<line x1="503.5" y1="356.8" x2="508.5" y2="356.8" stroke="#222" stroke-width="0.9"/>
<line x1="503.5" y1="372.1" x2="508.5" y2="372.1" stroke="#222" stroke-width="0.9"/>
<line x1="508.5" y1="382.9" x2="508.5" y2="388" stroke="#222" stroke-width="0.9"/>
<text x="508.5" y="397.5" font-size="9.4" text-anchor="middle" stroke="#000">0</text>
<line x1="541.6" y1="382.9" x2="541.6" y2="388" stroke="#222" stroke-width="0.9"/>
<text x="541.6" y="397.5" font-size="9.4" text-anchor="middle" stroke="#000">500</text>
<line x1="574.8" y1="382.9" x2="574.8" y2="388" stroke="#222" stroke-width="0.9"/>
<text x="574.8" y="397.5" font-size="9.4" text-anchor="middle" stroke="#000">1000</text>
<line x1="608.0" y1="382.9" x2="608.0" y2="388" stroke="#222" stroke-width="0.9"/>
<text x="608.0" y="397.5" font-size="9.4" text-anchor="middle" stroke="#000">1500</text>
<text x="445.9" y="329.6" font-size="10.3" stroke="#000" textLength="55.2" lengthAdjust="spacingAndGlyphs">Ctrl LV + Iso</text>
<text x="418.2" y="344.9" font-size="10.3" stroke="#000" textLength="82.9" lengthAdjust="spacingAndGlyphs">LV::UBA7-27 + Iso</text>
<text x="430.7" y="360.2" font-size="10.3" stroke="#000" textLength="70.4" lengthAdjust="spacingAndGlyphs">Ctrl LV + αPD-1</text>
<text x="403.1" y="375.5" font-size="10.3" stroke="#000" textLength="98.0" lengthAdjust="spacingAndGlyphs">LV::UBA7-27 + αPD-1</text>
<text stroke="#000" x="507.7" y="413.9" font-size="10.7" textLength="100.4" lengthAdjust="spacingAndGlyphs">Tumor volume (mm<tspan font-size="7" dy="-3.8">3</tspan><tspan dy="3.8">)</tspan></text>
<circle cx="608.0" cy="324.6" r="3.9" fill="#808080" stroke="#000" stroke-width="0.6"/>
<circle cx="608.0" cy="325.6" r="3.9" fill="#808080" stroke="#000" stroke-width="0.6"/>
<circle cx="608.0" cy="326.8" r="3.9" fill="#808080" stroke="#000" stroke-width="0.6"/>
<circle cx="608.0" cy="327.8" r="3.9" fill="#808080" stroke="#000" stroke-width="0.6"/>
<polygon points="533.3,340.5 548.3,340.4 560.2,340.1 565.5,339.1 572.1,339.1 577.5,339.9 584.7,340.7 591.4,339.9 600.0,338.2 608.0,337.5 610.9,338.9 610.9,344.1 608.0,345.5 600.0,344.8 591.4,343.1 584.7,342.3 577.5,343.1 572.1,343.9 565.5,343.9 560.2,342.9 548.3,342.6 533.3,342.5" fill="#b6baf3" stroke="#7a84dc" stroke-width="0.6" stroke-linejoin="round"/>
<circle cx="533.3" cy="341.5" r="3.9" fill="#0a96ff" stroke="#000" stroke-width="0.6"/>
<circle cx="565.1" cy="341.5" r="3.9" fill="#0a96ff" stroke="#000" stroke-width="0.6"/>
<circle cx="572.3" cy="341.5" r="3.9" fill="#0a96ff" stroke="#000" stroke-width="0.6"/>
<circle cx="600.2" cy="341.5" r="3.9" fill="#0a96ff" stroke="#000" stroke-width="0.6"/>
<circle cx="607.6" cy="341.5" r="3.9" fill="#0a96ff" stroke="#000" stroke-width="0.6"/>
<circle cx="608.0" cy="340.5" r="3.9" fill="#0a96ff" stroke="#000" stroke-width="0.6"/>
<circle cx="608.0" cy="342.5" r="3.9" fill="#0a96ff" stroke="#000" stroke-width="0.6"/>
<circle cx="608.0" cy="341.5" r="3.9" fill="#0a96ff" stroke="#000" stroke-width="0.6"/>
<polygon points="528.4,355.3 533.7,352.2 541.6,353.0 551.6,353.8 558.2,353.4 568.2,352.6 574.8,353.6 584.7,355.6 594.7,355.9 608.0,355.2 610.6,355.8 610.6,357.8 608.0,358.4 594.7,357.7 584.7,358.0 574.8,360.0 568.2,361.0 558.2,360.2 551.6,359.8 541.6,360.6 533.7,361.4 528.4,358.3" fill="#e9c4c0" stroke="#40302e" stroke-width="0.6" stroke-linejoin="round"/>
<circle cx="531.0" cy="357.6" r="3.9" fill="#cd8c82" stroke="#000" stroke-width="0.6"/>
<circle cx="534.0" cy="355.8" r="3.9" fill="#cd8c82" stroke="#000" stroke-width="0.6"/>
<circle cx="535.0" cy="357.2" r="3.9" fill="#cd8c82" stroke="#000" stroke-width="0.6"/>
<circle cx="556.1" cy="356.8" r="3.9" fill="#cd8c82" stroke="#000" stroke-width="0.6"/>
<circle cx="566.8" cy="356.2" r="3.9" fill="#cd8c82" stroke="#000" stroke-width="0.6"/>
<circle cx="569.5" cy="357.4" r="3.9" fill="#cd8c82" stroke="#000" stroke-width="0.6"/>
<circle cx="608.0" cy="356.8" r="3.9" fill="#cd8c82" stroke="#000" stroke-width="0.6"/>
<polygon points="506.5,370.6 512.5,368.5 521.8,368.9 528.4,370.7 539.7,371.0 548.3,371.0 556.2,371.3 556.2,372.9 548.3,373.2 539.7,373.2 528.4,373.5 521.8,375.3 512.5,375.7 506.5,373.6" fill="#e8503a" stroke="#c81e00" stroke-width="0.6" stroke-linejoin="round"/>
<circle cx="508.5" cy="372.9" r="3.9" fill="#c81e00" stroke="#000" stroke-width="0.6"/>
<circle cx="514.5" cy="371.5" r="3.9" fill="#c81e00" stroke="#000" stroke-width="0.6"/>
<circle cx="517.1" cy="372.6" r="3.9" fill="#c81e00" stroke="#000" stroke-width="0.6"/>
<circle cx="519.8" cy="371.2" r="3.9" fill="#c81e00" stroke="#000" stroke-width="0.6"/>
<circle cx="524.1" cy="372.7" r="3.9" fill="#c81e00" stroke="#000" stroke-width="0.6"/>
<circle cx="539.7" cy="372.1" r="3.9" fill="#c81e00" stroke="#000" stroke-width="0.6"/>
<circle cx="555.2" cy="372.1" r="3.9" fill="#c81e00" stroke="#000" stroke-width="0.6"/>
<line x1="623.5" y1="326.2" x2="623.5" y2="354.2" stroke="#222" stroke-width="1"/>
<text stroke="#000" transform="translate(636.34,340.55) rotate(-90)" font-size="11.4" letter-spacing="0.4" text-anchor="middle" font-weight="bold">**</text>
<line x1="623.5" y1="359.2" x2="623.5" y2="372.4" stroke="#222" stroke-width="1"/>
<text stroke="#000" transform="translate(636.34,366.10) rotate(-90)" font-size="11.4" letter-spacing="0.4" text-anchor="middle" font-weight="bold">*</text>
<line x1="645.4" y1="341.1" x2="645.4" y2="372.4" stroke="#222" stroke-width="1"/>
<text stroke="#000" transform="translate(658.14,356.90) rotate(-90)" font-size="11.4" letter-spacing="0.4" text-anchor="middle" font-weight="bold">***</text>
<line x1="667.4" y1="326.2" x2="667.4" y2="372.4" stroke="#222" stroke-width="1"/>
<text stroke="#000" transform="translate(680.14,349.30) rotate(-90)" font-size="11.4" letter-spacing="0.4" text-anchor="middle" font-weight="bold">****</text>
</svg>
</body>
</html>
